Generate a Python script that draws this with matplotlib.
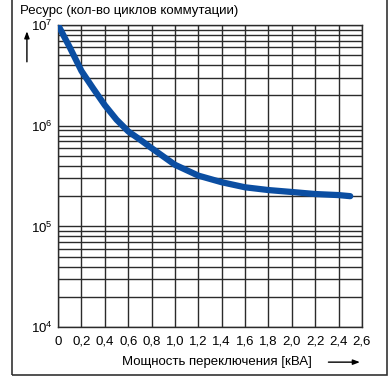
import numpy as np
import matplotlib
matplotlib.use("Agg")
import matplotlib.pyplot as plt
from matplotlib.patches import Rectangle

plt.rcParams['font.family'] = ['Liberation Sans', 'DejaVu Sans']
plt.rcParams['mathtext.fontset'] = 'custom'
plt.rcParams['mathtext.rm'] = 'Liberation Sans'
plt.rcParams['mathtext.it'] = 'Liberation Sans'

# curve
power_kva = [0, 0.1, 0.2, 0.3, 0.4, 0.5, 0.6, 0.7, 0.8, 1.0, 1.2, 1.4,
             1.6, 1.8, 2.0, 2.2, 2.4, 2.5]
cycles = [1e7, 6.0e6, 3.5e6, 2.35e6, 1.6e6, 1.15e6, 8.8e5, 7.3e5, 6.0e5,
          4.1e5, 3.2e5, 2.75e5, 2.45e5, 2.3e5, 2.2e5, 2.1e5, 2.05e5, 2.0e5]

x_ticks = [0, 0.2, 0.4, 0.6, 0.8, 1.0, 1.2, 1.4, 1.6, 1.8, 2.0, 2.2, 2.4, 2.6]
x_ticklabels = ['0', '0,2', '0,4', '0,6', '0,8', '1,0', '1,2', '1,4',
                '1,6', '1,8', '2,0', '2,2', '2,4', '2,6']
y_ticks = [1e4, 1e5, 1e6, 1e7]
y_ticklabels = ['$10^4$', '$10^5$', '$10^6$', '$10^7$']

grid_col = '#2b2b2b'
fs = 9.5

fig = plt.figure(figsize=(3.9, 3.8), dpi=100)
ax = fig.add_axes([0.149, 0.139, 0.779, 0.795])

ax.set_yscale('log')
ax.set_xlim(0, 2.6)
ax.set_ylim(1e4, 1e7)

ax.set_xticks(x_ticks)
ax.set_xticklabels(x_ticklabels, fontsize=fs)
ax.set_yticks(y_ticks)
ax.set_yticklabels(y_ticklabels, fontsize=fs)
ax.yaxis.set_minor_locator(matplotlib.ticker.LogLocator(base=10, subs=np.arange(2, 10)))
ax.yaxis.set_minor_formatter(matplotlib.ticker.NullFormatter())
ax.tick_params(which='both', length=0)
ax.tick_params(axis='x', pad=6)
ax.tick_params(axis='y', pad=4)

ax.grid(True, which='both', axis='y', color=grid_col, lw=1.0)
ax.grid(True, which='major', axis='x', color=grid_col, lw=1.0)
ax.set_axisbelow(True)
for s in ax.spines.values():
    s.set_color(grid_col)
    s.set_linewidth(1.0)

ax.plot(power_kva, cycles, color='#0B4EA2', lw=4.5, solid_capstyle='round', zorder=3)

# texts and arrows
fig.text(0.052, 0.972, 'Ресурс (кол-во циклов коммутации)', fontsize=fs,
         ha='left', va='center')
fig.text(0.555, 0.047, 'Мощность переключения [кВА]', fontsize=fs,
         ha='center', va='center')
fig.add_artist(matplotlib.patches.FancyArrowPatch(
    (0.069, 0.83), (0.069, 0.925), transform=fig.transFigure,
    arrowstyle='-|>,head_length=4,head_width=1.5', color='black', lw=1.0))
fig.add_artist(matplotlib.patches.FancyArrowPatch(
    (0.835, 0.047), (0.93, 0.047), transform=fig.transFigure,
    arrowstyle='-|>,head_length=4,head_width=1.5', color='black', lw=1.0))

# outer frame
fig.add_artist(Rectangle((0.031, 0.013), 0.961, 1.1, transform=fig.transFigure,
                         fill=False, edgecolor='#333333', lw=1.2, clip_on=False))

fig.savefig('out.png', dpi=100)
